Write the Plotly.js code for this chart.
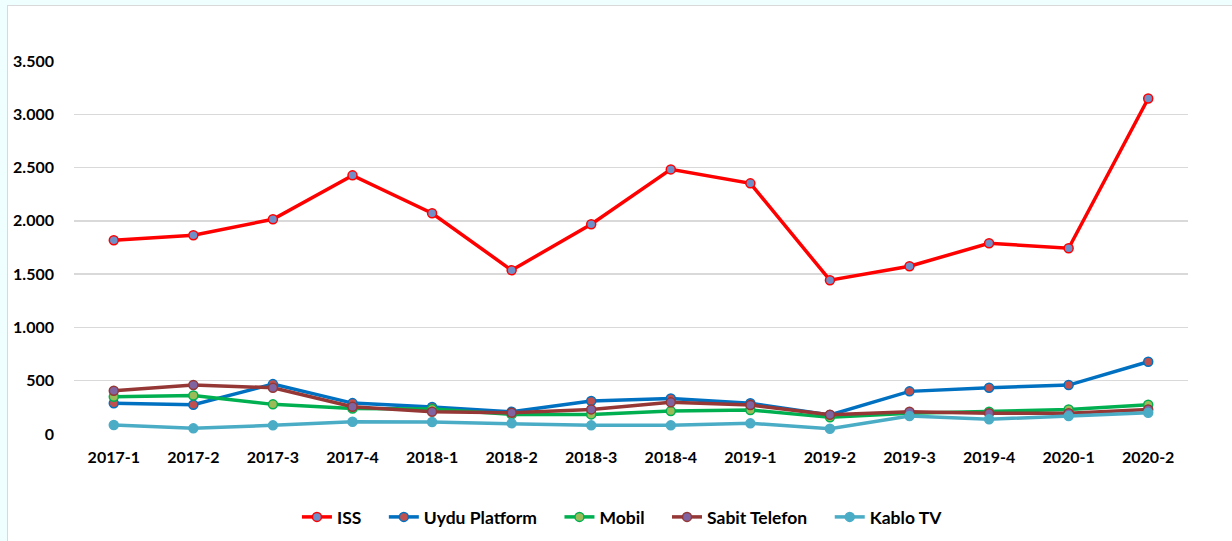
<!DOCTYPE html>
<html>
<head>
<meta charset="utf-8">
<script src="https://cdn.plot.ly/plotly-3.0.1.min.js"></script>
<style>
  html, body { margin: 0; padding: 0; background: #effefe; width: 1232px; height: 541px; overflow: hidden; }
  #panel { position: absolute; left: 7px; top: 5px; width: 1224px; height: 536px; background: #ffffff; border-left: 1px solid #d9d9d9; border-top: 1px solid #d9d9d9; border-right: 1px solid #d9d9d9; }
  #chart { position: absolute; left: 0; top: 0; width: 1224px; height: 536px; }
</style>
</head>
<body>
<div id="panel"><div id="chart"></div></div>
<script>
const categories = ["2017-1","2017-2","2017-3","2017-4","2018-1","2018-2","2018-3","2018-4","2019-1","2019-2","2019-3","2019-4","2020-1","2020-2"];
const iss          = [1818, 1865, 2015, 2427, 2071, 1537, 1968, 2483, 2352, 1443, 1574, 1790, 1743, 3148];
const uyduPlatform = [288, 275, 468, 290, 253, 209, 309, 334, 288, 178, 400, 434, 459, 678];
const mobil        = [350, 362, 278, 240, 234, 184, 184, 215, 225, 156, 194, 209, 231, 275];
const sabitTelefon = [406, 459, 434, 256, 209, 200, 231, 297, 272, 181, 209, 194, 194, 231];
const kabloTV      = [84, 53, 81, 115, 112, 100, 81, 81, 100, 50, 169, 138, 169, 200];
const seriesNames  = ["ISS", "Uydu Platform", "Mobil", "Sabit Telefon", "Kablo TV"];
const yTickVals = [0, 500, 1000, 1500, 2000, 2500, 3000, 3500];
const yTickText = ["0", "500", "1.000", "1.500", "2.000", "2.500", "3.000", "3.500"];

const GAP = '\u2002\u2002';
function series(i, y, lineColor, markerFill) {
  const name = seriesNames[i] + (i < seriesNames.length - 1 ? GAP : '');
  return {
    type: 'scatter', mode: 'lines+markers', name: name, x: categories, y: y,
    line: { color: lineColor, width: 3.5 },
    marker: { size: 9, color: markerFill, line: { color: lineColor, width: 1.5 } }
  };
}

const data = [
  series(0, iss, '#ff0000', '#6f8fc8'),
  series(1, uyduPlatform, '#0070c0', '#c0504d'),
  series(2, mobil, '#00b050', '#9bbb59'),
  series(3, sabitTelefon, '#953735', '#8064a2'),
  series(4, kabloTV, '#4bacc6', '#4bacc6')
];

const tickFont = { family: 'Lato, "Open Sans", sans-serif', size: 16, color: '#000000', weight: 'bold' };
const legendFont = { family: 'Lato, "Open Sans", sans-serif', size: 17.5, color: '#000000', weight: 'bold' };

const layout = {
  width: 1224, height: 536,
  margin: { l: 66, r: 44, t: 54.5, b: 108 },
  paper_bgcolor: 'rgba(0,0,0,0)',
  plot_bgcolor: '#ffffff',
  font: tickFont,
  showlegend: true,
  legend: {
    orientation: 'h', xref: 'container', yref: 'container',
    x: 0.502, xanchor: 'center', y: 0.0466, yanchor: 'middle',
    font: legendFont, itemwidth: 30, tracegroupgap: 0
  },
  xaxis: {
    type: 'category', range: [-0.5, 13.5],
    showgrid: false, zeroline: false, showline: false,
    ticks: '', tickfont: tickFont, ticklabelstandoff: 12
  },
  yaxis: {
    range: [0, 3500], tickvals: yTickVals, ticktext: yTickText,
    showgrid: true, gridcolor: '#d9d9d9', gridwidth: 1.5,
    zeroline: false, showline: false, ticks: '',
    tickfont: tickFont, ticklabelstandoff: 19
  }
};

Plotly.newPlot('chart', data, layout, { displayModeBar: false, staticPlot: true });
</script>
</body>
</html>
